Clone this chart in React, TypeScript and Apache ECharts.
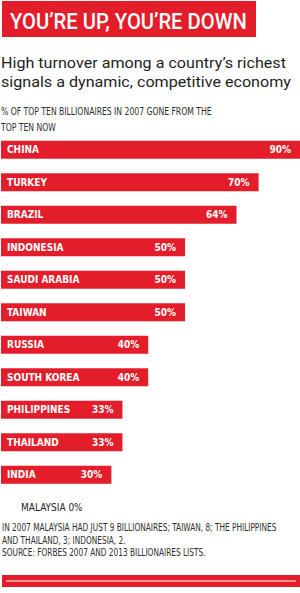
import React, { useEffect, useRef } from "react";
import * as echarts from "echarts";

const categories = [
  "CHINA", "TURKEY", "BRAZIL", "INDONESIA", "SAUDI ARABIA", "TAIWAN",
  "RUSSIA", "SOUTH KOREA", "PHILIPPINES", "THAILAND", "INDIA", "MALAYSIA",
];
const values = [90, 70, 64, 50, 50, 50, 40, 40, 33, 33, 30, 0];

const titleText = "YOU’RE UP, YOU’RE DOWN";
const subtitleLines = [
  "High turnover among a country’s richest",
  "signals a dynamic, competitive economy",
];
const headerLines = ["% OF TOP TEN BILLIONAIRES IN 2007 GONE FROM THE", "TOP TEN NOW"];
const noteLines = [
  "IN 2007 MALAYSIA HAD JUST 9 BILLIONAIRES; TAIWAN, 8; THE PHILIPPINES",
  "AND THAILAND, 3; INDONESIA, 2.",
  "SOURCE: FORBES 2007 AND 2013 BILLIONAIRES LISTS.",
];

const RED = "#e41d2b";
const COND = "'Liberation Sans Narrow', 'DejaVu Sans Condensed', 'Roboto', sans-serif";

function fitScale(text: string, font: string, target: number): number {
  const ctx = document.createElement("canvas").getContext("2d");
  if (!ctx) return 1;
  ctx.font = font;
  const w = ctx.measureText(text).width;
  return w > 0 ? target / w : 1;
}

export default function App() {
  const ref = useRef<HTMLDivElement>(null);
  useEffect(() => {
    if (!ref.current) return;
    const chart = echarts.init(ref.current, undefined, { renderer: "svg" });

    const titleFont = { fontSize: 22, fontFamily: "Roboto", fontWeight: 500 as any };
    const titleScale = fitScale(titleText, `500 22px Roboto`, 237);
    const subFont = { fontSize: 15, fontFamily: "Roboto", fontWeight: 400 as any };
    const subScale = fitScale(subtitleLines[0], `400 15px Roboto`, 285);
    const headFontStr = `500 11px ${COND}`;
    const headScale = fitScale(headerLines[0], headFontStr, 211);
    const noteScale = fitScale(noteLines[0], headFontStr, 275);

    const graphic: any[] = [
      { type: "rect", shape: { x: 2, y: 1, width: 254, height: 36 }, style: { fill: RED } },
      {
        type: "text", x: 10, y: 21, scaleX: titleScale,
        style: { text: titleText, ...titleFont, fill: "#ffffff", verticalAlign: "middle", align: "left" },
      },
      ...subtitleLines.map((t, i) => ({
        type: "text", x: 1, y: 63 + i * 19, scaleX: subScale,
        style: { text: t, ...subFont, fill: "#1e1e1e", verticalAlign: "middle", align: "left" },
      })),
      ...headerLines.map((t, i) => ({
        type: "text", x: 1, y: 111 + i * 16.5, scaleX: headScale,
        style: { text: t, fontSize: 11, fontFamily: COND, fontWeight: 500, fill: "#2e2e2e", verticalAlign: "middle", align: "left" },
      })),
      ...noteLines.map((t, i) => ({
        type: "text", x: 2, y: 527.5 + i * 12.2, scaleX: noteScale,
        style: { text: t, fontSize: 11, fontFamily: COND, fontWeight: 500, fill: "#2e2e2e", verticalAlign: "middle", align: "left" },
      })),
      { type: "rect", shape: { x: 2, y: 575, width: 298, height: 12 }, style: { fill: RED } },
      { type: "rect", shape: { x: 6, y: 580.5, width: 290, height: 1 }, style: { fill: "#ffffff" } },
    ];

    const data = values.map((v) => {
      const item: any = { value: v };
      if (v === 0) item.label = { show: false };
      return item;
    });

    chart.setOption({
      animation: false,
      grid: { left: 1, top: 133.5, right: 0, height: 390, containLabel: false },
      xAxis: {
        type: "value", min: 0, max: 81.25, show: false,
      },
      yAxis: {
        type: "category", data: categories, inverse: true,
        axisLine: { show: false }, axisTick: { show: false }, splitLine: { show: false },
        axisLabel: {
          inside: true, margin: 6, color: "#ffffff", fontSize: 10, fontWeight: "bold",
          fontFamily: COND,
          formatter: (val: string, idx: number) =>
            values[idx] === 0 ? `{m|${val} ${values[idx]}%}` : val,
          rich: {
            m: { color: "#222222", fontSize: 10, fontWeight: 500, fontFamily: COND, padding: [0, 0, 0, 14] },
          },
        },
        z: 10,
      },
      series: [
        {
          type: "bar", data, barWidth: 18, clip: true, itemStyle: { color: RED },
          label: {
            show: true, position: "insideRight", distance: 9, formatter: "{c}%",
            color: "#ffffff", fontSize: 10, fontWeight: "bold", fontFamily: COND,
          },
        },
      ],
      graphic,
    });
    return () => chart.dispose();
  }, []);
  return (
    <div
      ref={ref}
      style={{ position: "absolute", left: 0, top: 0, width: 300, height: 593, background: "#fff" }}
    />
  );
}
